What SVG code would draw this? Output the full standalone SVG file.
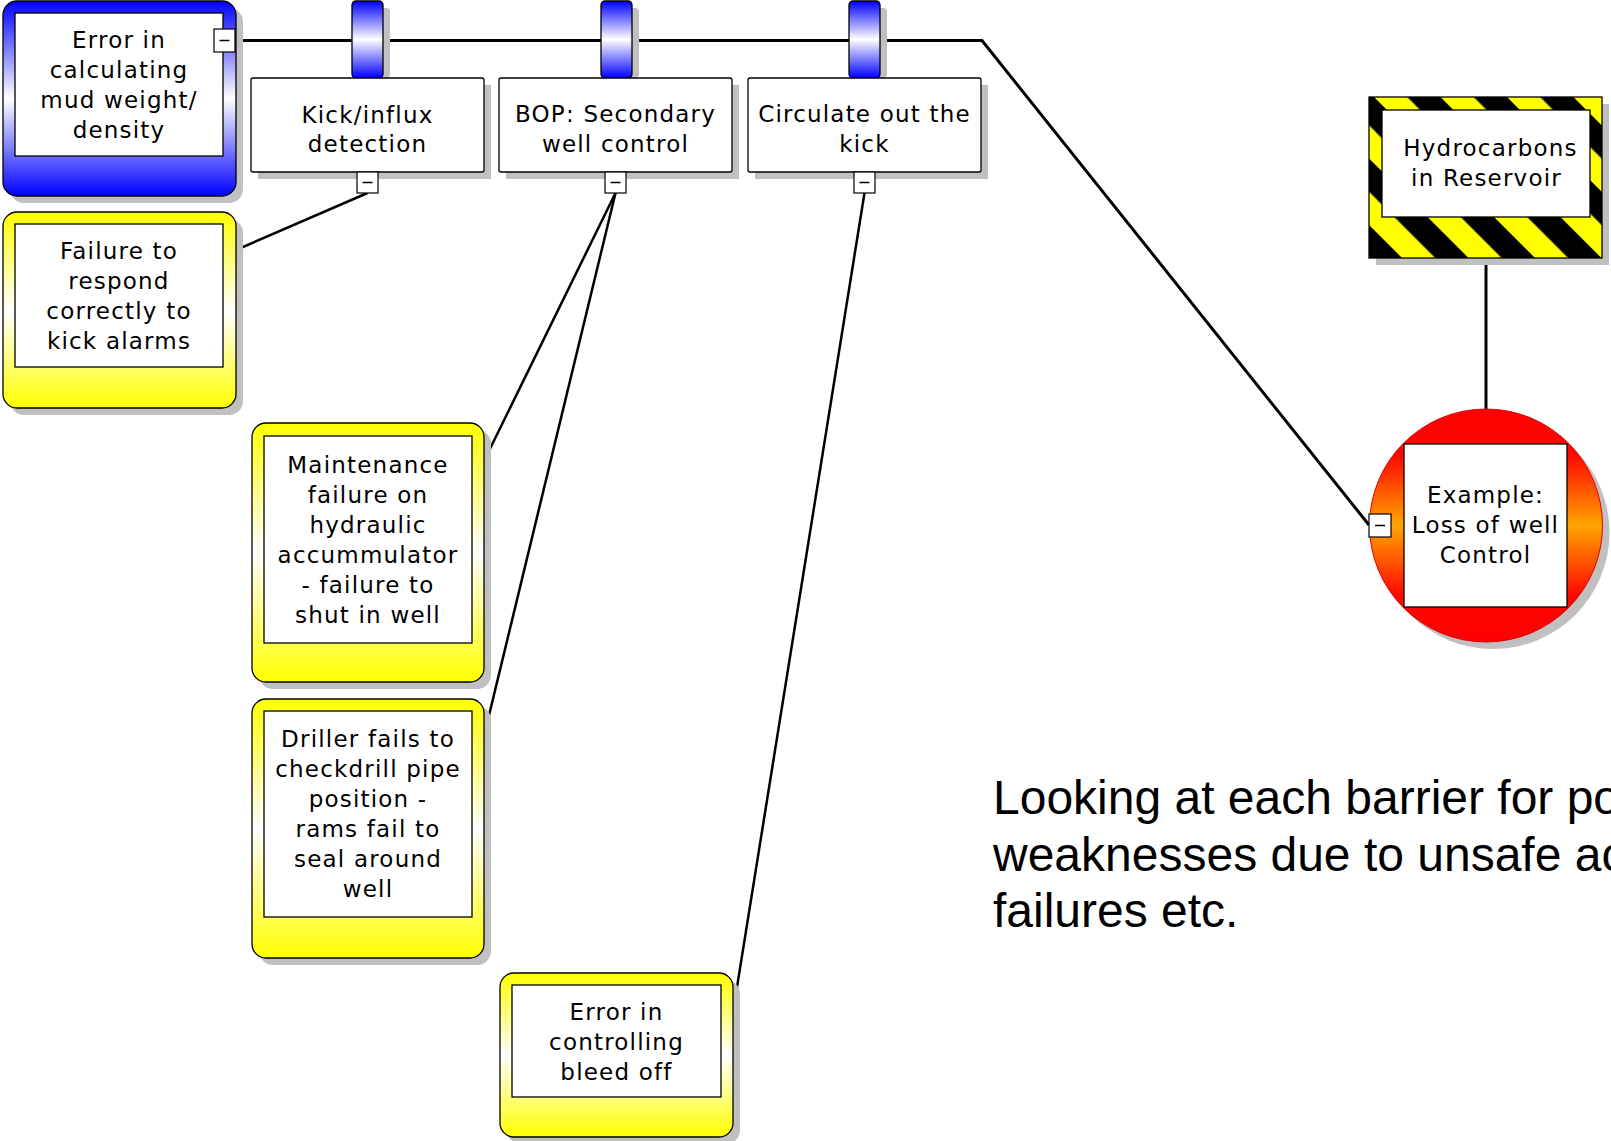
<svg xmlns="http://www.w3.org/2000/svg" width="1611" height="1141" viewBox="0 0 1611 1141">
  <defs>
    <linearGradient id="gBlue" x1="0" y1="0" x2="0" y2="1">
      <stop offset="0" stop-color="#0000FF"/>
      <stop offset="0.5" stop-color="#FFFFFF"/>
      <stop offset="1" stop-color="#0000FF"/>
    </linearGradient>
    <linearGradient id="gYellow" x1="0" y1="0" x2="0" y2="1">
      <stop offset="0" stop-color="#FFFF00"/>
      <stop offset="0.5" stop-color="#FFFFFF"/>
      <stop offset="1" stop-color="#FFFF00"/>
    </linearGradient>
    <linearGradient id="gBar" x1="0" y1="0" x2="0" y2="1">
      <stop offset="0" stop-color="#0000FF"/>
      <stop offset="0.5" stop-color="#FFFFFF"/>
      <stop offset="1" stop-color="#0000FF"/>
    </linearGradient>
    <linearGradient id="gEvent" x1="0" y1="0" x2="0" y2="1">
      <stop offset="0" stop-color="#FF0000"/>
      <stop offset="0.2" stop-color="#FF0800"/>
      <stop offset="0.5" stop-color="#FFA500"/>
      <stop offset="0.8" stop-color="#FF0800"/>
      <stop offset="1" stop-color="#FF0000"/>
    </linearGradient>
    <!-- hazard stripes -->
    <pattern id="hazard" patternUnits="userSpaceOnUse" width="47" height="47" patternTransform="translate(1374 97) rotate(-45)">
      <rect x="0" y="0" width="23.5" height="47" fill="#FFFF00"/>
      <rect x="23.5" y="0" width="23.5" height="47" fill="#000000"/>
    </pattern>
  </defs>
  <style>
    .sh { fill: #C0C0C0; }
    .box { fill: #FFFFFF; stroke: #000000; stroke-width: 1.3; }
    .outer { stroke: #000000; stroke-width: 1.3; }
    .bar { fill: url(#gBar); stroke: #000000; stroke-width: 1.3; }
    .minus { fill: #FFFFFF; stroke: #000000; stroke-width: 1.2; }
    .dash { stroke: #000000; stroke-width: 1.5; }
    .conn { fill: none; stroke: #000000; stroke-width: 2.5; }
    .main { stroke-width: 3; }
    .lbl { font-family: "DejaVu Sans", Verdana, sans-serif; font-size: 23px; letter-spacing: 1.2px; text-anchor: middle; fill: #000000; }
    .note { font-family: "Liberation Sans", Arial, sans-serif; font-size: 48px; fill: #000000; }
  </style>

  <!-- connectors -->
  <g id="connectors">
    <path class="conn main" d="M235 40.5 H982 L1369 525"/>
    <path class="conn main" d="M1486 258 V409"/>
    <path class="conn" d="M367.5 193 L236 250"/>
    <path class="conn" d="M615.5 193 L484 461"/>
    <path class="conn" d="M615.5 193 L484 736"/>
    <path class="conn" d="M864.5 193 L733 1012"/>
  </g>

  <!-- threat: mud weight -->
  <g id="threat-mud-weight">
    <rect class="sh" x="10" y="8" width="233" height="195" rx="14"/>
    <rect class="outer" x="3" y="1" width="233" height="195" rx="14" fill="url(#gBlue)"/>
    <rect class="box" x="15" y="13" width="208" height="143"/>
    <text class="lbl" x="119" y="47.5">Error in</text>
    <text class="lbl" x="119" y="77.5">calculating</text>
    <text class="lbl" x="119" y="107.5">mud weight/</text>
    <text class="lbl" x="119" y="137.5">density</text>
    <rect class="minus" x="214" y="29" width="21" height="23"/>
    <line class="dash" x1="219.5" y1="40.5" x2="229.5" y2="40.5"/>
  </g>

  <!-- barrier: kick detection -->
  <g id="barrier-kick">
    <rect class="sh" x="359" y="8" width="31" height="70" rx="4"/>
    <rect class="bar" x="352" y="1" width="31" height="77" rx="4"/>
    <rect class="sh" x="258" y="85" width="233" height="94"/>
    <rect class="box" x="251" y="78" width="233" height="94" rx="2"/>
    <text class="lbl" x="367.5" y="123">Kick/influx</text>
    <text class="lbl" x="367.5" y="152">detection</text>
    <rect class="minus" x="357" y="172" width="21" height="21"/>
    <line class="dash" x1="362.5" y1="182.5" x2="372.5" y2="182.5"/>
  </g>

  <!-- barrier: BOP -->
  <g id="barrier-bop">
    <rect class="sh" x="608" y="8" width="31" height="70" rx="4"/>
    <rect class="bar" x="601" y="1" width="31" height="77" rx="4"/>
    <rect class="sh" x="506" y="85" width="233" height="94"/>
    <rect class="box" x="499" y="78" width="233" height="94" rx="2"/>
    <text class="lbl" x="615.5" y="122">BOP: Secondary</text>
    <text class="lbl" x="615.5" y="152">well control</text>
    <rect class="minus" x="605" y="172" width="21" height="21"/>
    <line class="dash" x1="610.5" y1="182.5" x2="620.5" y2="182.5"/>
  </g>

  <!-- barrier: circulate -->
  <g id="barrier-circulate">
    <rect class="sh" x="856" y="8" width="31" height="70" rx="4"/>
    <rect class="bar" x="849" y="1" width="31" height="77" rx="4"/>
    <rect class="sh" x="755" y="85" width="233" height="94"/>
    <rect class="box" x="748" y="78" width="233" height="94" rx="2"/>
    <text class="lbl" x="864.5" y="122">Circulate out the</text>
    <text class="lbl" x="864.5" y="152">kick</text>
    <rect class="minus" x="854" y="172" width="21" height="21"/>
    <line class="dash" x1="859.5" y1="182.5" x2="869.5" y2="182.5"/>
  </g>

  <!-- escalation: kick alarms -->
  <g id="factor-kick-alarms">
    <rect class="sh" x="10" y="219" width="233" height="196" rx="14"/>
    <rect class="outer" x="3" y="212" width="233" height="196" rx="14" fill="url(#gYellow)"/>
    <rect class="box" x="15" y="224" width="208" height="143"/>
    <text class="lbl" x="119" y="259">Failure to</text>
    <text class="lbl" x="119" y="289">respond</text>
    <text class="lbl" x="119" y="319">correctly to</text>
    <text class="lbl" x="119" y="349">kick alarms</text>
  </g>

  <!-- escalation: accumulator maintenance -->
  <g id="factor-accumulator">
    <rect class="sh" x="259" y="430" width="232" height="259" rx="14"/>
    <rect class="outer" x="252" y="423" width="232" height="259" rx="14" fill="url(#gYellow)"/>
    <rect class="box" x="264" y="436" width="208" height="207"/>
    <text class="lbl" x="368" y="472.5">Maintenance</text>
    <text class="lbl" x="368" y="502.5">failure on</text>
    <text class="lbl" x="368" y="532.5">hydraulic</text>
    <text class="lbl" x="368" y="562.5">accummulator</text>
    <text class="lbl" x="368" y="592.5">- failure to</text>
    <text class="lbl" x="368" y="622.5">shut in well</text>
  </g>

  <!-- escalation: drill pipe position -->
  <g id="factor-drill-pipe">
    <rect class="sh" x="259" y="706" width="232" height="259" rx="14"/>
    <rect class="outer" x="252" y="699" width="232" height="259" rx="14" fill="url(#gYellow)"/>
    <rect class="box" x="264" y="711" width="208" height="206"/>
    <text class="lbl" x="368" y="747">Driller fails to</text>
    <text class="lbl" x="368" y="777">checkdrill pipe</text>
    <text class="lbl" x="368" y="807">position -</text>
    <text class="lbl" x="368" y="837">rams fail to</text>
    <text class="lbl" x="368" y="867">seal around</text>
    <text class="lbl" x="368" y="897">well</text>
  </g>

  <!-- escalation: bleed off -->
  <g id="factor-bleed-off">
    <rect class="sh" x="507" y="980" width="233" height="164" rx="14"/>
    <rect class="outer" x="500" y="973" width="233" height="164" rx="14" fill="url(#gYellow)"/>
    <rect class="box" x="512" y="985" width="209" height="112"/>
    <text class="lbl" x="616.5" y="1019.5">Error in</text>
    <text class="lbl" x="616.5" y="1049.5">controlling</text>
    <text class="lbl" x="616.5" y="1079.5">bleed off</text>
  </g>

  <!-- hazard -->
  <g id="hazard-node">
    <rect class="sh" x="1376" y="104" width="233" height="161"/>
    <rect class="outer" x="1369" y="97" width="233" height="161" fill="url(#hazard)"/>
    <rect class="box" x="1382" y="110" width="208" height="107"/>
    <text class="lbl" x="1490.5" y="156">Hydrocarbons</text>
    <text class="lbl" x="1486.5" y="186">in Reservoir</text>
  </g>

  <!-- top event -->
  <g id="top-event">
    <circle class="sh" cx="1493" cy="532.5" r="116.5"/>
    <circle cx="1486" cy="525.5" r="116.5" fill="url(#gEvent)" stroke="#E00000" stroke-width="1"/>
    <rect class="box" x="1404" y="444" width="163" height="163"/>
    <text class="lbl" x="1485.5" y="503">Example:</text>
    <text class="lbl" x="1485.5" y="533">Loss of well</text>
    <text class="lbl" x="1485.5" y="563">Control</text>
    <rect class="minus" x="1369" y="514" width="22" height="23"/>
    <line class="dash" x1="1375" y1="525.5" x2="1385" y2="525.5"/>
  </g>

  <!-- note, running off the right edge of the page -->
  <g id="note">
    <text class="note" x="993" y="814">Looking at each barrier for po</text>
    <text class="note" x="993" y="871">weaknesses due to unsafe ac</text>
    <text class="note" x="993" y="927">failures etc.</text>
  </g>
</svg>
